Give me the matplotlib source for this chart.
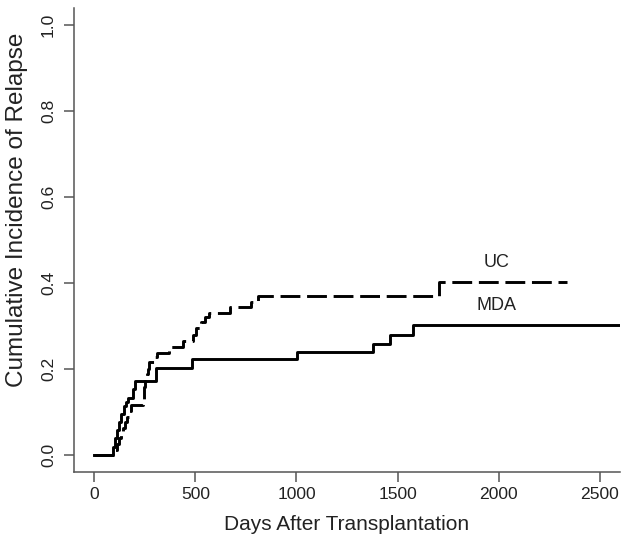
import matplotlib
matplotlib.use("Agg")
import matplotlib.pyplot as plt

plt.rcParams['font.family'] = ['Liberation Sans', 'DejaVu Sans']

# cumulative incidence steps (day, value after the step)
mda_days = [0, 94, 104, 114, 124, 134, 146, 158, 168, 193, 203, 305, 485, 1005, 1381, 1465, 1574, 2600]
mda_ci = [0.0, 0.019, 0.038, 0.057, 0.076, 0.095, 0.114, 0.124, 0.133, 0.154, 0.171, 0.203, 0.222, 0.240, 0.259, 0.280, 0.302, 0.302]

uc_days = [0, 100, 112, 122, 132, 142, 152, 162, 172, 182, 240, 244, 247, 250, 262, 266, 270,
           300, 310, 370, 440, 490, 505, 530, 548, 566, 673, 777, 812, 1703, 2337]
uc_ci = [0.0, 0.012, 0.025, 0.038, 0.050, 0.063, 0.076, 0.089, 0.102, 0.115, 0.130, 0.145, 0.158, 0.172, 0.187, 0.200, 0.215,
         0.227, 0.238, 0.252, 0.265, 0.280, 0.295, 0.310, 0.320, 0.330, 0.343, 0.356, 0.369, 0.402, 0.402]

labels = ["UC", "MDA"]
label_pos = [(1990, 0.448), (1990, 0.348)]

x_ticks = [0, 500, 1000, 1500, 2000, 2500]
y_ticks = [0.0, 0.2, 0.4, 0.6, 0.8, 1.0]

# -----------------------------------------------------

fig = plt.figure(figsize=(6.29, 5.48), dpi=100)
ax = fig.add_axes([74/629, 76/548, 546/629, 464/548])

ax.step(mda_days, mda_ci, where='post', color='black', lw=2.1)
ax.step(uc_days, uc_ci, where='post', color='black', lw=2.1, dashes=(6.8, 2.3))

for txt, (xx, yy) in zip(labels, label_pos):
    ax.text(xx, yy, txt, ha='center', va='center', fontsize=13, color='#222222')

ax.set_xlim(-100, 2600)
ax.set_ylim(-0.04, 1.04)
ax.set_xticks(x_ticks)
ax.set_yticks(y_ticks)
ax.set_yticklabels(["%.1f" % v for v in y_ticks])

axcol = '#555555'
for side in ['top', 'right']:
    ax.spines[side].set_visible(False)
for side in ['left', 'bottom']:
    ax.spines[side].set_color(axcol)
    ax.spines[side].set_linewidth(1.1)

ax.tick_params(axis='both', colors=axcol, length=7.5, width=1.1, labelcolor='#222222')
ax.tick_params(axis='x', labelsize=12.6, pad=3.5)
ax.tick_params(axis='y', labelsize=12.6, pad=5.5)
for lab in ax.get_yticklabels():
    lab.set_rotation(90)
    lab.set_va('center')

ax.set_xlabel("Days After Transplantation", fontsize=15, color='#222222')
ax.xaxis.label.set_va('center')
ax.xaxis.set_label_coords(0.5, -(524 - 472) / 464)

ax.set_ylabel("Cumulative Incidence of Relapse", fontsize=17.5, color='#222222')
ax.yaxis.label.set_va('center')
ax.yaxis.set_label_coords(-(74 - 17) / 546, (472 - 210) / 464)

fig.savefig("out.png", dpi=100)
